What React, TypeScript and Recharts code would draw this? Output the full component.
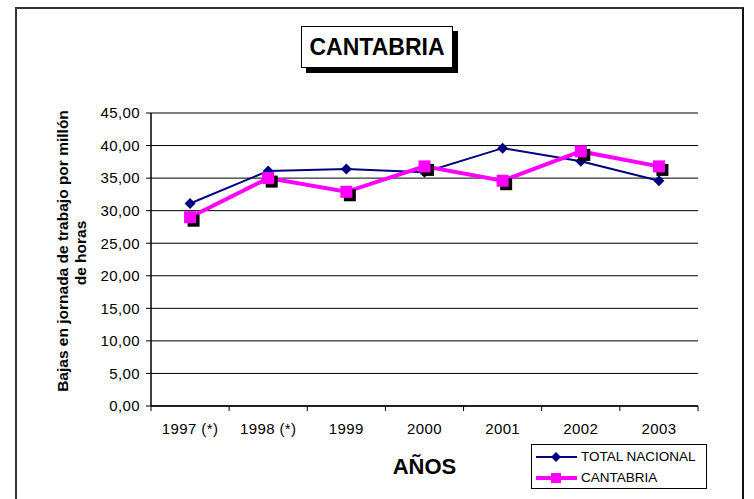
import { LineChart, Line, XAxis, YAxis, CartesianGrid, Label } from 'recharts'

const years = ['1997 (*)', '1998 (*)', '1999', '2000', '2001', '2002', '2003']
const totalNacional = [31.1, 36.1, 36.4, 35.9, 39.6, 37.6, 34.6]
const cantabria = [29.0, 35.0, 32.9, 36.8, 34.6, 39.1, 36.8]
const yTicks = [0, 5, 10, 15, 20, 25, 30, 35, 40, 45]

const data = years.map((year, i) => ({ year, total: totalNacional[i], cantabria: cantabria[i] }))

const FONT = '"Liberation Sans", Arial, sans-serif'
const NAVY = '#000080'
const MAGENTA = '#FF00FF'
const W = 754
const H = 499
const PLOT_W = 547
const HALF_BAND = PLOT_W / years.length / 2

const fmt = (v: number) => v.toFixed(2).replace('.', ',')

function Diamond({ cx, cy }: any) {
  if (cx == null || cy == null) return null
  const r = 5.5
  return <polygon points={`${cx},${cy - r} ${cx + r},${cy} ${cx},${cy + r} ${cx - r},${cy}`} fill={NAVY} />
}

function ShadowSquare({ cx, cy }: any) {
  if (cx == null || cy == null) return null
  const s = 12
  return (
    <g>
      <rect x={cx - s / 2 + 3.5} y={cy - s / 2 + 3.5} width={s} height={s} fill="#000" />
      <rect x={cx - s / 2} y={cy - s / 2} width={s} height={s} fill={MAGENTA} />
    </g>
  )
}

function XTick({ x, y, payload, index }: any) {
  const axisY = y - 17
  return (
    <g>
      <line x1={x - HALF_BAND} x2={x - HALF_BAND} y1={axisY} y2={axisY + 5} stroke="#000" />
      {index === years.length - 1 && (
        <line x1={x + HALF_BAND} x2={x + HALF_BAND} y1={axisY} y2={axisY + 5} stroke="#000" />
      )}
      <text x={x} y={y} dy="0.71em" textAnchor="middle" fontSize={15} letterSpacing={0.4} fill="#000" fontFamily={FONT}>
        {payload.value}
      </text>
    </g>
  )
}

function YLabel() {
  return (
    <g fontFamily={FONT} fontWeight="bold" fontSize={15.5} fill="#000">
      <text x={62} y={251} transform="rotate(-90 62 251)" textAnchor="middle" dominantBaseline="central">
        Bajas en jornada de trabajo por millón
      </text>
      <text x={80} y={253} transform="rotate(-90 80 253)" textAnchor="middle" dominantBaseline="central">
        de horas
      </text>
    </g>
  )
}

export default function App() {
  return (
    <div style={{ position: 'relative', width: W, height: H, overflow: 'hidden', background: '#fff', fontFamily: FONT }}>
      <style>{'body{margin:0}'}</style>
      <div style={{ position: 'absolute', left: 15, top: 7, width: 725, height: 520, borderLeft: '2px solid #333', borderTop: '2px solid #333', borderRight: '2px solid #111' }} />
      <LineChart
        width={W}
        height={H}
        data={data}
        margin={{ top: 113, right: 56, bottom: 63, left: 91 }}
        style={{ position: 'absolute', left: 0, top: 0, fontFamily: FONT }}
      >
        <CartesianGrid vertical={false} stroke="#000" strokeWidth={1} />
        <XAxis
          xAxisId="top"
          orientation="top"
          dataKey="year"
          height={0}
          tick={false}
          tickLine={false}
          axisLine={{ stroke: '#808080', strokeWidth: 2 }}
        />
        <YAxis
          yAxisId="right"
          orientation="right"
          width={0}
          domain={[0, 45]}
          tick={false}
          tickLine={false}
          axisLine={{ stroke: '#808080', strokeWidth: 2 }}
        />
        <XAxis
          dataKey="year"
          padding={{ left: HALF_BAND, right: HALF_BAND }}
          tickLine={false}
          tickSize={5}
          tickMargin={12}
          height={30}
          axisLine={{ stroke: '#000', strokeWidth: 1.5 }}
          tick={<XTick />}
          interval={0}
        >
          <Label value="AÑOS" position="bottom" offset={22} fontSize={22} fontWeight="bold" fill="#000" fontFamily={FONT} />
        </XAxis>
        <YAxis
          domain={[0, 45]}
          ticks={yTicks}
          width={60}
          tickFormatter={fmt}
          tickSize={5}
          tickMargin={6}
          axisLine={{ stroke: '#000', strokeWidth: 1.5 }}
          tickLine={{ stroke: '#000' }}
          tick={{ fontSize: 15, fill: '#000', fontFamily: FONT, letterSpacing: 0.4 }}
          label={<YLabel />}
        />
        <Line dataKey="total" stroke={NAVY} strokeWidth={2} dot={<Diamond />} isAnimationActive={false} />
        <Line dataKey="cantabria" stroke={MAGENTA} strokeWidth={4} dot={<ShadowSquare />} isAnimationActive={false} />
      </LineChart>
      <div style={{ position: 'absolute', left: 306, top: 31, width: 152, height: 42, background: '#000' }} />
      <div style={{ position: 'absolute', left: 301, top: 26, width: 150, height: 40, border: '1px solid #000', background: '#fff', display: 'flex', alignItems: 'center', justifyContent: 'center', fontSize: 23, fontWeight: 'bold' }}>
        CANTABRIA
      </div>
      <div style={{ position: 'absolute', left: 531, top: 444, width: 174, height: 43, border: '1px solid #000', background: '#fff', fontSize: 13.5 }}>
        <div style={{ display: 'flex', alignItems: 'center', height: 21, marginTop: 1 }}>
          <svg width={46} height={14} style={{ marginLeft: 3 }}>
            <line x1={1} x2={42} y1={7} y2={7} stroke={NAVY} strokeWidth={2} />
            <polygon points="21,2 26,7 21,12 16,7" fill={NAVY} />
          </svg>
          <span>TOTAL NACIONAL</span>
        </div>
        <div style={{ display: 'flex', alignItems: 'center', height: 21 }}>
          <svg width={46} height={14} style={{ marginLeft: 3 }}>
            <line x1={1} x2={42} y1={7} y2={7} stroke={MAGENTA} strokeWidth={4} />
            <rect x={16} y={2} width={10} height={10} fill={MAGENTA} />
          </svg>
          <span>CANTABRIA</span>
        </div>
      </div>
    </div>
  )
}
